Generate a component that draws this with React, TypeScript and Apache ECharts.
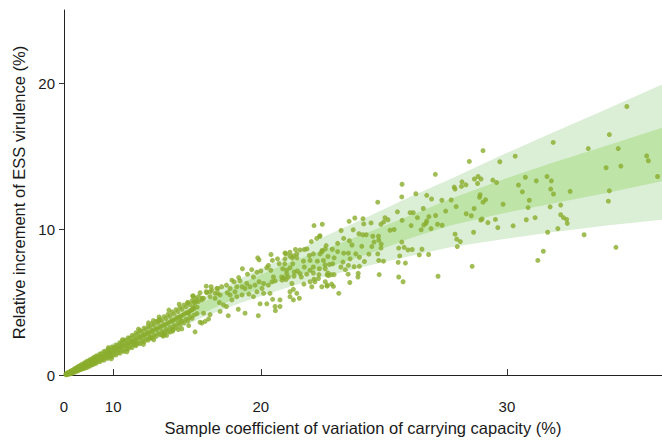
import React, { useEffect, useRef } from "react";
import * as echarts from "echarts";

// Axis texts and ticks (x axis is drawn on a squared scale of the CV)
const xTitle = "Sample coefficient of variation of carrying capacity (%)";
const yTitle = "Relative increment of ESS virulence (%)";
const xTickCv = [0, 10, 20, 30];
const yTickValues = [0, 10, 20];
const xMaxCv = 34.86;
const yMax = 25;

// Prediction bands (x = CV %, y = relative increment %)
const bandCv = [0, 5, 7.27, 10, 12.75, 15, 16.63, 19, 21.43, 22.81, 24.94, 26.5, 28.01, 29.8, 31.43, 33.2, 34.86];
const outerUpper = [0, 0.51, 1.18, 2.2, 3.14, 4.16, 5.17, 6.66, 8.21, 9.36, 10.91, 12.2, 13.41, 15.03, 16.52, 18.21, 19.9];
const innerUpper = [0, 0.37, 0.98, 1.93, 2.94, 3.95, 4.9, 6.32, 7.74, 8.48, 9.83, 10.91, 12.06, 13.35, 14.49, 15.71, 16.93];
const innerLower = [0, 0.24, 0.71, 1.52, 2.4, 3.35, 4.16, 5.44, 6.72, 7.2, 8.34, 9.36, 10.24, 11.05, 11.72, 12.47, 13.28];
const outerLower = [0, 0.17, 0.57, 1.32, 2.13, 3.01, 3.89, 4.97, 6.05, 6.66, 7.53, 8.14, 8.75, 9.29, 9.76, 10.24, 10.64];

// Dense core of samples near the origin
const corePoints: [number, number][] = [
  [2.02, 0.08], [2.02, 0.02], [2.85, 0.16], [2.85, 0.08],
  [3.49, 0.24], [3.49, 0.15], [3.49, 0.08], [4.03, 0.32], [4.03, 0.22], [4.03, 0.12],
  [4.73, 0.46], [4.73, 0.33], [4.73, 0.2], [5.33, 0.58], [5.33, 0.42], [5.33, 0.3],
  [5.88, 0.7], [5.88, 0.55], [5.88, 0.38], [6.38, 0.82], [6.38, 0.62], [6.38, 0.45],
  [6.84, 0.95], [6.84, 0.75], [6.84, 0.52], [7.27, 1.05], [7.27, 0.85], [7.27, 0.62],
  [7.68, 1.18], [7.68, 0.93], [7.68, 0.72], [8.06, 1.3], [8.06, 1.06], [8.06, 0.8],
  [8.55, 1.45], [8.55, 1.17], [8.55, 0.92], [9.02, 1.62], [9.02, 1.3], [9.02, 1.02],
  [9.46, 1.75], [9.46, 1.46], [9.46, 1.15], [9.88, 1.92], [9.88, 1.58], [9.88, 1.25],
  [10.28, 2.05], [10.28, 1.74], [10.28, 1.38], [10.67, 2.22], [10.67, 1.85], [10.67, 1.5],
  [11.04, 2.4], [11.04, 2.02], [11.04, 1.62], [11.41, 2.55], [11.41, 2.15], [11.41, 1.78],
  [11.76, 2.72], [11.76, 2.32], [11.76, 1.88], [12.1, 2.9], [12.1, 2.44], [12.1, 2.02],
  [12.43, 3.05], [12.43, 2.6], [12.43, 2.15], [12.75, 3.22], [12.75, 2.75], [12.75, 2.28],
  [13.07, 3.35], [13.07, 2.88], [13.07, 2.4], [13.37, 3.52], [13.37, 3.0], [13.37, 2.55],
  [13.67, 3.68], [13.67, 3.15], [13.67, 2.65], [13.97, 3.82], [13.97, 3.27], [13.97, 2.78],
  [14.26, 4.0], [14.26, 3.42], [14.26, 2.9], [14.54, 4.15], [14.54, 3.58], [14.54, 3.02],
  [14.82, 4.32], [14.82, 3.72], [14.82, 3.15], [15.09, 4.48], [15.09, 3.86], [15.09, 3.3],
  [15.36, 4.62], [15.36, 4.02], [15.36, 3.45], [15.62, 4.8], [15.62, 4.18], [15.62, 3.58],
  [15.87, 4.95], [15.87, 4.3], [15.87, 3.72], [16.13, 5.1], [16.13, 4.48], [16.13, 3.88],
  [2.47, 0.12], [2.47, 0.03], [3.19, 0.2], [3.19, 0.08], [3.77, 0.27], [3.77, 0.13],
  [4.39, 0.38], [4.39, 0.2], [5.04, 0.5], [5.04, 0.28], [5.61, 0.62], [5.61, 0.36],
  [6.13, 0.73], [6.13, 0.45], [6.61, 0.85], [6.61, 0.53], [7.06, 0.96], [7.06, 0.62],
  [7.48, 1.07], [7.48, 0.71], [7.87, 1.19], [7.87, 0.81], [8.31, 1.32], [8.31, 0.92],
  [8.79, 1.46], [8.79, 1.04], [9.24, 1.61], [9.24, 1.17], [9.67, 1.75], [9.67, 1.29],
  [10.08, 1.9], [10.08, 1.42], [10.48, 2.04], [10.48, 1.54], [10.86, 2.2], [10.86, 1.68],
  [11.23, 2.36], [11.23, 1.82], [11.58, 2.51], [11.58, 1.95], [11.93, 2.67], [11.93, 2.09],
  [12.26, 2.82], [12.26, 2.22], [12.59, 2.98], [12.59, 2.36], [12.91, 3.12], [12.91, 2.48],
  [13.22, 3.27], [13.22, 2.61], [13.52, 3.42], [13.52, 2.74], [13.82, 3.56], [13.82, 2.86],
  [14.11, 3.71], [14.11, 2.99], [14.4, 3.87], [14.4, 3.13], [14.68, 4.03], [14.68, 3.27],
  [14.95, 4.19], [14.95, 3.41], [15.22, 4.35], [15.22, 3.55], [15.49, 4.51], [15.49, 3.69],
  [15.75, 4.67], [15.75, 3.83], [16.0, 4.83], [16.0, 3.97], [16.25, 4.99], [16.25, 4.11],
  [16.44, 5.11], [16.44, 4.21],
  [2.5, 0.07], [3.2, 0.13], [3.8, 0.21], [4.4, 0.3], [5.05, 0.4], [5.6, 0.48], [6.15, 0.6],
  [6.6, 0.68], [7.05, 0.8], [7.5, 0.9], [7.9, 0.99], [8.3, 1.13], [8.8, 1.24], [9.25, 1.4],
  [9.65, 1.51], [10.1, 1.67], [10.5, 1.78], [10.85, 1.95], [11.25, 2.08], [11.6, 2.24],
  [11.95, 2.37], [12.25, 2.53], [12.6, 2.66], [12.9, 2.81], [13.2, 2.93], [13.5, 3.09],
  [13.8, 3.2], [14.1, 3.36], [14.4, 3.49], [14.7, 3.66], [14.95, 3.79], [15.2, 3.96],
  [15.5, 4.09], [15.75, 4.26], [16.0, 4.39], [16.25, 4.56], [16.45, 4.65],
  [9.5, 1.88], [10.9, 2.42], [12.3, 3.15], [13.1, 3.58], [13.9, 3.98], [14.6, 4.45],
  [15.3, 4.85], [9.8, 1.12], [11.3, 1.6], [12.7, 2.1], [13.5, 2.42], [14.3, 2.78],
];

// Samples away from the dense core
const outerPoints: [number, number][] = [
  [14.44, 2.72], [14.16, 2.72], [14.68, 2.94], [15.24, 3.12], [14.91, 3.12], [15.47, 3.16], [16.32, 2.96],
  [13.84, 3.73], [13.47, 3.73], [13.22, 2.55], [12.08, 2.11], [11.81, 2.22], [15.85, 4.97], [17.29, 6.05],
  [17.04, 5.64], [16.17, 5.42], [16.74, 5.15], [17.68, 5.93], [17.68, 5.6], [17.14, 3.84], [16.63, 3.62],
  [15.92, 3.39], [14.86, 3.01], [14.2, 2.67], [15.36, 3.8], [15.9, 4.24],
  [22.81, 9.54], [21.9, 8.57], [21.75, 8.3], [21.43, 8.41], [21.19, 8.36], [20.51, 8.26], [19.84, 8.03],
  [19.91, 7.89], [20.58, 7.85], [20.83, 7.96], [20.91, 7.62], [20.38, 7.51], [20.3, 7.35], [20.5, 7.18],
  [20.0, 7.13], [19.8, 7.04], [19.53, 7.22], [19.04, 7.28], [19.31, 6.91], [19.62, 6.72], [18.84, 6.68],
  [18.47, 6.5], [18.59, 6.39], [18.91, 6.45], [18.17, 6.16], [17.9, 6.05], [18.37, 5.93], [17.62, 5.93],
  [17.33, 5.82], [17.0, 6.09], [17.0, 5.71], [16.63, 5.64], [16.21, 5.42], [16.32, 4.92], [16.53, 5.03],
  [16.74, 5.26], [17.23, 5.37], [17.52, 5.26], [17.77, 4.97], [18.0, 4.81], [18.17, 4.7], [18.47, 5.15],
  [18.74, 5.37], [19.02, 5.49], [19.38, 5.55], [19.62, 5.37], [19.8, 5.71], [20.06, 5.93], [20.14, 5.6],
  [20.46, 5.6], [20.59, 5.19], [20.95, 5.15], [20.95, 4.7], [20.71, 4.7], [20.73, 4.41], [20.3, 4.88],
  [19.96, 4.88], [19.87, 4.07], [19.18, 4.24], [18.82, 4.51], [18.27, 4.07], [17.81, 4.36], [17.23, 4.14],
  [16.84, 4.24], [16.74, 3.57], [16.94, 3.68], [16.21, 4.65], [16.11, 4.47], [21.43, 5.71], [21.59, 5.87],
  [21.75, 5.6], [21.43, 5.37], [21.59, 5.15], [21.87, 5.26], [22.58, 6.39], [22.74, 6.61], [23.04, 6.39],
  [22.36, 7.18], [21.9, 6.95], [21.63, 7.06], [21.27, 7.18], [21.35, 6.72], [21.14, 6.66], [21.05, 6.5],
  [20.71, 6.45], [20.63, 6.72], [20.56, 6.39], [20.38, 6.16], [20.14, 6.27], [19.91, 6.39], [19.7, 6.16],
  [19.44, 6.05], [19.27, 6.27], [19.18, 5.93], [19.02, 6.05], [18.74, 6.05], [18.64, 5.71], [18.37, 5.49],
  [18.22, 5.64], [17.81, 5.49], [17.52, 5.6], [17.23, 5.71], [16.84, 5.26], [16.53, 5.37], [16.32, 5.26],
  [22.36, 6.39], [22.44, 6.05], [22.89, 6.05], [23.04, 7.28], [22.78, 7.28], [22.96, 7.85], [22.81, 8.3],
  [23.04, 8.64], [22.51, 8.3],
  [22.54, 10.24], [22.79, 9.49], [22.66, 9.36], [22.42, 9.14], [22.1, 8.6], [22.22, 8.64], [21.69, 8.6],
  [21.24, 8.3], [21.43, 8.14], [21.59, 8.16], [21.54, 8.01], [21.19, 7.96], [21.75, 8.03], [22.33, 8.19],
  [22.36, 7.85], [22.06, 7.8], [22.69, 7.8], [22.9, 8.53], [21.18, 7.62], [21.56, 7.62], [21.43, 7.35],
  [21.08, 7.28], [21.78, 7.13], [22.1, 7.4], [22.51, 7.4], [21.27, 6.95], [21.62, 6.77], [21.96, 6.72],
  [22.21, 6.91], [22.51, 6.99], [21.03, 6.72], [21.24, 6.54], [21.52, 6.27], [22.08, 6.23], [22.54, 6.57],
  [22.76, 6.88], [23.12, 6.86], [23.32, 6.23], [23.12, 6.09],
  [27.47, 13.75], [26.21, 13.07], [26.74, 12.42], [26.2, 12.2], [27.15, 12.31], [27.33, 12.06], [25.25, 11.84],
  [27.71, 11.97], [27.85, 11.23], [27.02, 11.41], [26.03, 11.18], [26.52, 11.12], [26.64, 11.12], [26.8, 10.78],
  [26.21, 10.6], [27.23, 10.85], [27.48, 10.93], [27.15, 10.55], [27.12, 10.39], [27.04, 10.28], [27.55, 10.33],
  [27.72, 10.26], [27.31, 10.03], [26.94, 9.95], [26.56, 10.24], [25.54, 10.78], [25.66, 10.64], [25.49, 10.49],
  [25.38, 10.33], [25.74, 9.92], [25.9, 9.97], [24.65, 10.71], [24.31, 10.76], [24.07, 10.53], [22.91, 10.33],
  [24.68, 10.35], [24.98, 10.42], [23.73, 9.9], [24.24, 9.95], [24.48, 9.68], [24.64, 9.61], [24.78, 9.61],
  [25.05, 9.51], [25.28, 9.51], [25.29, 9.24], [25.1, 9.11], [25.39, 8.97], [25.38, 8.7], [26.2, 9.11],
  [23.84, 9.36], [23.58, 9.02], [24.08, 9.2], [24.19, 8.91], [24.6, 8.82], [25.01, 8.8], [23.08, 8.87],
  [22.9, 8.46], [23.35, 8.62], [23.58, 8.46], [23.84, 8.35], [24.04, 8.35], [24.35, 8.3], [24.89, 8.28],
  [25.25, 8.3], [26.08, 8.7], [26.29, 8.75], [26.44, 8.57], [26.6, 8.6], [26.97, 8.62], [26.12, 8.16],
  [26.87, 8.23], [27.22, 8.26], [23.16, 8.12], [23.43, 8.03], [23.81, 7.74], [24.11, 7.96], [24.5, 8.07],
  [24.71, 7.78], [25.29, 7.85], [25.48, 7.8], [26.06, 7.72], [26.34, 7.67], [23.03, 7.55], [23.23, 7.58],
  [23.37, 7.62], [23.72, 7.4], [24.04, 7.51], [24.28, 7.42], [24.5, 7.45], [23.91, 7.22], [23.16, 6.99],
  [23.19, 6.81], [23.31, 6.88], [23.43, 6.88], [24.03, 6.91], [24.45, 6.97], [24.44, 6.72], [25.31, 6.88],
  [26.08, 6.72], [27.57, 6.77], [24.1, 6.34], [26.25, 6.39], [23.13, 6.16], [23.4, 6.07], [23.63, 5.6],
  [29.18, 15.37], [28.7, 14.63], [29.76, 14.61], [30.28, 14.99], [28.44, 13.23], [28.88, 13.43], [29.01, 13.6],
  [29.11, 13.43], [28.99, 13.12], [28.58, 13.03], [28.42, 12.92], [28.16, 12.87], [28.19, 12.74], [29.52, 13.35],
  [29.65, 13.19], [30.62, 13.55], [30.98, 13.3], [31.33, 13.6], [30.39, 13.01], [30.52, 12.55], [29.08, 12.35],
  [29.06, 12.18], [29.27, 12.01], [29.18, 11.84], [28.05, 11.99], [28.23, 11.54], [28.87, 11.41], [29.87, 11.7],
  [30.75, 11.97], [30.71, 11.47], [28.59, 11.05], [28.77, 10.91], [29.15, 10.69], [29.1, 10.62], [29.61, 10.66],
  [29.35, 10.44], [30.65, 10.64], [30.94, 10.78], [29.69, 10.1], [30.21, 10.22], [28.19, 9.65], [28.85, 9.78],
  [31.35, 9.78], [28.25, 9.31], [28.38, 9.14], [28.27, 8.8], [31.21, 8.48], [31.03, 7.85], [28.8, 7.45],
  [33.82, 18.39], [33.29, 16.47], [31.53, 15.93], [32.64, 15.51], [33.56, 15.51], [34.41, 15.01], [34.46, 14.68],
  [33.19, 14.2], [33.64, 14.31], [34.73, 13.6], [31.47, 13.3], [31.45, 12.74], [31.54, 12.4], [32.07, 12.58],
  [33.29, 12.62], [33.26, 11.91], [31.43, 11.52], [31.77, 11.64], [31.77, 10.98], [31.86, 10.78], [31.96, 10.66],
  [31.98, 10.39], [31.68, 10.03], [32.51, 9.61], [33.49, 8.75],
];

const FONT = "'Liberation Sans', Arial, Helvetica, sans-serif";
const TEXT = "#1a1a1a";

export default function App() {
  const ref = useRef<HTMLDivElement>(null);

  useEffect(() => {
    if (!ref.current) return;
    const chart = echarts.init(ref.current, null, { renderer: "svg" });
    const sq = (v: number) => v * v;

    const bandSeries = (upper: number[], lower: number[], color: string, z: number) => ({
      type: "custom",
      silent: true,
      clip: true,
      z,
      data: [[0, 0]],
      renderItem: (_params: any, api: any) => {
        const pts: number[][] = [];
        for (let i = 0; i < bandCv.length; i++) pts.push(api.coord([sq(bandCv[i]), upper[i]]));
        for (let i = bandCv.length - 1; i >= 0; i--) pts.push(api.coord([sq(bandCv[i]), lower[i]]));
        return { type: "polygon", shape: { points: pts }, style: { fill: color } };
      },
    });

    const allPoints = corePoints.concat(outerPoints).map(([cv, v]) => [sq(cv), v]);
    const xTicks = xTickCv.map(sq);

    chart.setOption({
      animation: false,
      grid: { left: 64, right: 0, top: 10, bottom: 61.5, containLabel: false },
      xAxis: {
        type: "value",
        min: 0,
        max: sq(xMaxCv),
        name: xTitle,
        nameLocation: "middle",
        nameGap: 43,
        nameTextStyle: { fontFamily: FONT, fontSize: 16.5, color: TEXT },
        axisLine: { show: true, onZero: false, lineStyle: { color: "#222", width: 1 } },
        axisTick: { show: true, inside: true, length: 6, customValues: xTicks, lineStyle: { color: "#333" } },
        axisLabel: {
          customValues: xTicks,
          margin: 24,
          fontFamily: FONT,
          fontSize: 15,
          color: TEXT,
          formatter: (v: number) => String(Math.round(Math.sqrt(v))),
        },
        splitLine: { show: false },
      },
      yAxis: {
        type: "value",
        min: 0,
        max: yMax,
        name: yTitle,
        nameLocation: "middle",
        nameGap: 36,
        nameTextStyle: { fontFamily: FONT, fontSize: 16.5, color: TEXT },
        axisLine: { show: true, onZero: false, lineStyle: { color: "#222", width: 1 } },
        axisTick: { show: true, inside: false, length: 5, customValues: yTickValues, lineStyle: { color: "#333" } },
        axisLabel: { customValues: yTickValues, margin: 9, fontFamily: FONT, fontSize: 15, color: TEXT },
        splitLine: { show: false },
      },
      series: [
        bandSeries(outerUpper, outerLower, "#dbeed6", 1),
        bandSeries(innerUpper, innerLower, "#bee4a8", 2),
        {
          type: "scatter",
          z: 3,
          symbol: "circle",
          symbolSize: 5,
          itemStyle: { color: "#8aac2c" },
          data: allPoints,
          silent: true,
        },
      ],
    });

    return () => chart.dispose();
  }, []);

  return (
    <div
      ref={ref}
      style={{ position: "fixed", left: 0, top: 0, width: 662, height: 441, background: "#fff" }}
    />
  );
}
